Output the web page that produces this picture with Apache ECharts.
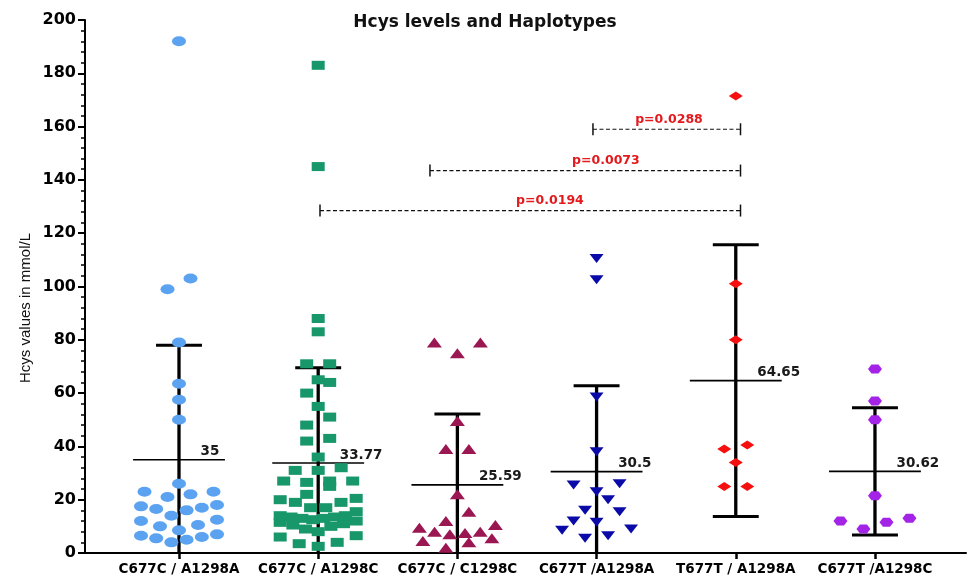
<!DOCTYPE html>
<html><head><meta charset="utf-8">
<script src="https://cdn.jsdelivr.net/npm/echarts@6/dist/echarts.min.js"></script>
<style>html,body{margin:0;padding:0;background:#fff}#c{width:970px;height:576px}</style>
</head><body><div id="c"></div>
<script>
// ---- data ----
const categories = ['C677C / A1298A','C677C / A1298C','C677C / C1298C','C677T /A1298A','T677T / A1298A','C677T /A1298C'];
const g1 = [192, 103, 99, 79, 63.5, 57.5, 50, 26, 23, 23, 22, 21, 18, 17.5, 17, 16.5, 16, 14, 12.5, 12, 10.5, 10, 8.5, 7, 6.5, 6, 5.5, 5, 4];
const g2 = [183, 145, 88, 83, 71, 71, 65, 64, 60, 55, 51, 48, 43, 42, 36, 32, 31, 31, 27, 27, 27, 26.5, 25, 22, 20.5, 20, 19, 19, 17, 17, 15.5, 14, 14, 13.5, 13.5, 13, 13, 12.5, 12, 11.5, 11, 10.5, 10, 9, 8, 6.5, 6, 4, 3.5, 2.5];
const g3 = [79, 79, 75, 49.5, 39, 39, 22, 15.5, 12, 10.5, 9.5, 8, 8, 7.5, 7, 5.5, 4.5, 4, 2];
const g4 = [110.5, 102.5, 58.5, 38, 26, 25.5, 23, 20, 16, 15.5, 12, 11.5, 9, 8.5, 6.5, 5.5];
const g5 = [171.5, 101, 80, 40.5, 39, 34, 25, 25];
const g6 = [69, 57, 50, 21.5, 13, 12, 11.5, 9];
const groups = [g1, g2, g3, g4, g5, g6];
const means = [35, 33.77, 25.59, 30.5, 64.65, 30.62];
const sds = [43, 35.7, 26.6, 32.3, 51, 23.9];
const meanLabels = ['35', '33.77', '25.59', '30.5', '64.65', '30.62'];
const yTickValues = [0, 20, 40, 60, 80, 100, 120, 140, 160, 180, 200];
const pLabels = ['p=0.0194', 'p=0.0073', 'p=0.0288'];
const pFrom = [2.013, 2.803, 3.974];
const pTo = [5.034, 5.034, 5.034];
const pLevel = [128.5, 143.5, 159];
const pLabelAt = [3.665, 4.067, 4.52];
const titleText = 'Hcys levels and Haplotypes';
const yTitle = 'Hcys values in mmol/L';

// ---- styles ----
const colors = ['#5ba3f0', '#17976a', '#9a1752', '#0a0aa8', '#f50f0f', '#a324e6'];
const hexPath = 'path://M-1,0 L-0.5,-1 L0.5,-1 L1,0 L0.5,1 L-0.5,1 Z';
const downTri = 'path://M-1,-1 L1,-1 L0,1 Z';
const symbols = ['circle', 'rect', 'triangle', downTri, 'diamond', hexPath];
const symSizes = [[14, 10], [13, 9], [15, 10], [14, 9], [14, 9], [14, 9]];
const BOLD = 'DejaVu Sans';

const chart = echarts.init(document.getElementById('c'), null, {renderer: 'canvas'});
const base = {
  animation: false,
  backgroundColor: '#fff',
  title: {text: titleText, left: 'center', top: 9,
    textStyle: {fontFamily: BOLD, fontWeight: 'bold', fontSize: 17, color: '#111'}},
  grid: {left: 85, right: 4, top: 20, bottom: 23},
  xAxis: {type: 'value', min: 0.3247, max: 6.654,
    splitLine: {show: false},
    axisLine: {show: true, onZero: false, lineStyle: {color: '#000', width: 2}},
    axisTick: {show: true, customValues: [1, 2, 3, 4, 5, 6], length: 6, lineStyle: {color: '#000', width: 2.5}},
    axisLabel: {customValues: [1, 2, 3, 4, 5, 6], margin: 9, color: '#000',
      fontFamily: BOLD, fontWeight: 'bold', fontSize: 13.5,
      formatter: v => categories[Math.round(v) - 1] || ''}},
  yAxis: {type: 'value', min: 0, max: 200, interval: 20,
    splitLine: {show: false},
    axisLine: {show: true, lineStyle: {color: '#000', width: 2}},
    axisTick: {show: true, length: 7, lineStyle: {color: '#000', width: 2}},
    minorTick: {show: true, splitNumber: 5, length: 4, lineStyle: {color: '#000', width: 1.5}},
    axisLabel: {customValues: yTickValues, margin: 9, color: '#000', fontFamily: BOLD, fontWeight: 'bold', fontSize: 16}},
  graphic: [{type: 'text', x: 26, y: 308, rotation: Math.PI / 2,
    style: {text: yTitle, fill: '#111', font: '15px "Liberation Sans", Arial, sans-serif', align: 'center', verticalAlign: 'middle'}}],
  series: []
};
chart.setOption(base);

const pxPerX = chart.convertToPixel({xAxisIndex: 0}, 2) - chart.convertToPixel({xAxisIndex: 0}, 1);
const pxPerY = chart.convertToPixel({yAxisIndex: 0}, 0) - chart.convertToPixel({yAxisIndex: 0}, 1);
const ROW_H = 11, GAP = 23, MAXW = 76;

function swarm(vals, center) {
  const sorted = vals.slice().sort((a, b) => a - b);
  const out = [];
  let i = 0;
  while (i < sorted.length) {
    const start = sorted[i]; const row = [];
    while (i < sorted.length && (sorted[i] - start) * pxPerY < ROW_H) { row.push(sorted[i]); i++; }
    const n = row.length;
    const sp = n > 1 ? Math.min(GAP, MAXW / (n - 1)) : 0;
    const slots = [];
    for (let k = 0; k < n; k++) slots.push((k - (n - 1) / 2) * sp);
    slots.sort((a, b) => Math.abs(a) - Math.abs(b) || a - b);
    row.forEach((v, k) => out.push([center + slots[k] / pxPerX, v]));
  }
  return out;
}

const series = [];
// error bars + mean lines
series.push({
  type: 'custom', z: 2, silent: true,
  data: means.map((m, i) => [i + 1, m, sds[i]]),
  renderItem: (params, api) => {
    const x = api.value(0), m = api.value(1), sd = api.value(2);
    const band = api.size([1, 0])[0];
    const capW = band * 0.165, meanW = band * 0.33;
    const top = api.coord([x, m + sd]);
    const bot = api.coord([x, Math.max(0, m - sd)]);
    const mid = api.coord([x, m]);
    const k = {stroke: '#000'};
    const ch = [
      {type: 'line', shape: {x1: top[0], y1: top[1], x2: bot[0], y2: bot[1]}, style: Object.assign({lineWidth: 3.3}, k)},
      {type: 'line', shape: {x1: top[0] - capW, y1: top[1], x2: top[0] + capW, y2: top[1]}, style: Object.assign({lineWidth: 3}, k)},
      {type: 'line', shape: {x1: mid[0] - meanW, y1: mid[1], x2: mid[0] + meanW, y2: mid[1]}, style: Object.assign({lineWidth: 1.7}, k)},
      {type: 'text', x: mid[0] + band * 0.155, y: mid[1] - 1,
        style: {text: meanLabels[params.dataIndex], fill: '#1a1a1a', font: 'bold 13.5px "DejaVu Sans"', align: 'left', verticalAlign: 'bottom'}}
    ];
    if (m - sd > 0) ch.push({type: 'line', shape: {x1: bot[0] - capW, y1: bot[1], x2: bot[0] + capW, y2: bot[1]}, style: Object.assign({lineWidth: 3}, k)});
    return {type: 'group', children: ch};
  }
});
// significance brackets
series.push({
  type: 'custom', z: 2, silent: true,
  data: pLabels.map((t, i) => [pFrom[i], pTo[i], pLevel[i], pLabelAt[i]]),
  renderItem: (params, api) => {
    const a = api.coord([api.value(0), api.value(2)]);
    const b = api.coord([api.value(1), api.value(2)]);
    const c = api.coord([api.value(3), api.value(2)]);
    return {type: 'group', children: [
      {type: 'line', shape: {x1: a[0], y1: a[1], x2: b[0], y2: b[1]}, style: {stroke: '#111', lineWidth: 1.2, lineDash: [4, 2.5]}},
      {type: 'line', shape: {x1: a[0], y1: a[1] - 6, x2: a[0], y2: a[1] + 6}, style: {stroke: '#111', lineWidth: 1.5}},
      {type: 'line', shape: {x1: b[0], y1: b[1] - 6, x2: b[0], y2: b[1] + 6}, style: {stroke: '#111', lineWidth: 1.5}},
      {type: 'text', x: c[0], y: c[1] - 3, style: {text: pLabels[params.dataIndex], fill: '#e3191c', font: 'bold 12.5px "DejaVu Sans"', align: 'center', verticalAlign: 'bottom'}}
    ]};
  }
});
groups.forEach((g, i) => {
  series.push({
    type: 'scatter', z: 3, name: categories[i],
    symbol: symbols[i], symbolSize: symSizes[i],
    itemStyle: {color: colors[i], opacity: 1},
    data: swarm(g, i + 1)
  });
});
chart.setOption({series: series});
</script>
</body></html>
